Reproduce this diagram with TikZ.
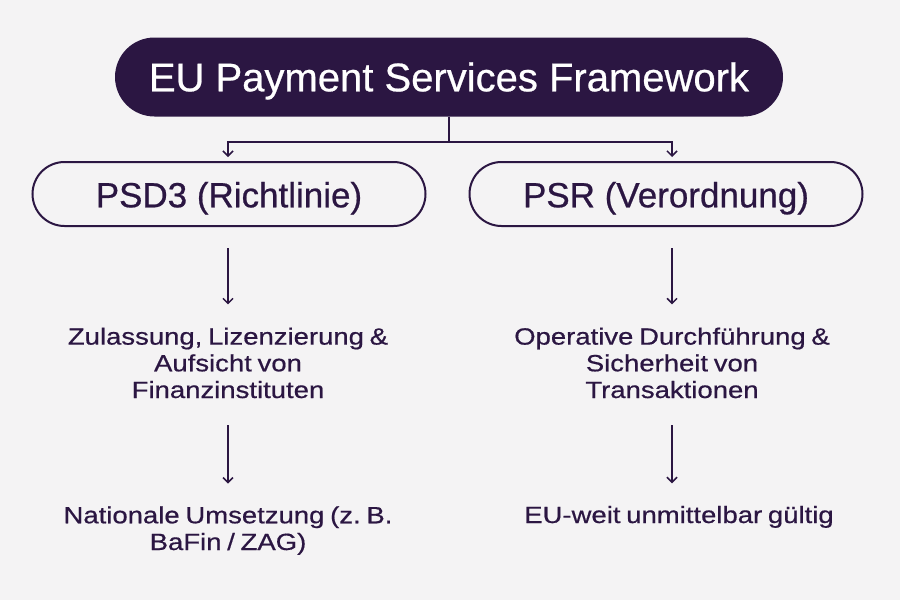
\documentclass[tikz,border=0pt]{standalone}
\usepackage{fontspec}
\setmainfont{Liberation Sans}
\newfontfamily\widefont[FakeStretch=1.17,FakeBold=0.6,WordSpace=0.75]{Liberation Sans}
\newfontfamily\medfont[FakeBold=0.6,WordSpace=0.8]{Liberation Sans}
\newfontfamily\titlefont[FakeBold=0.6]{Liberation Sans}
\usetikzlibrary{arrows.meta}
\definecolor{ink}{HTML}{2B1642}
\definecolor{bg}{HTML}{F4F3F4}
\frenchspacing
\begin{document}
\begin{tikzpicture}[x=1pt,y=-1pt,
  topbox/.style={fill=ink, text=white, rounded corners=39.5pt, minimum width=668pt, minimum height=79pt, inner sep=0pt, text height=28.6pt, text depth=0pt, font=\titlefont\fontsize{40}{48}\selectfont},
  subbox/.style={draw=ink, line width=2pt, fill=bg, rounded corners=32pt, minimum width=393pt, minimum height=64pt, inner sep=0pt, text=ink, text height=26.6pt, text depth=0pt, font=\medfont\fontsize{35}{42}\selectfont},
  desc/.style={text=ink, align=center, inner sep=0pt, anchor=base, font=\widefont\fontsize{23.5}{26.7}\selectfont\frenchspacing},
  conn/.style={draw=ink, line width=1.5pt},
  arr/.style={conn, -{Straight Barb[length=5pt,width=10pt]}}]
\fill[bg] (0,0) rectangle (900,600);
\useasboundingbox (0,0) rectangle (900,600);

\node[topbox] (top) at (449,77) {EU Payment Services Framework};
\node[subbox] (psd) at (229,194) {PSD3 (Richtlinie)};
\node[subbox] (psr) at (666,194) {PSR (Verordnung)};

\node[desc] (t1) at (228,398) {Zulassung, Lizenzierung \&\\Aufsicht von\\Finanzinstituten};
\node[desc] (t2) at (672,398) {Operative Durchführung \&\\Sicherheit von\\Transaktionen};
\node[desc] (t3) at (228,550) {Nationale Umsetzung (z. B.\\BaFin / ZAG)};
\node[desc] (t4) at (679,523) {EU-weit unmittelbar gültig};

\coordinate (split) at (449,142);
\draw[conn] (top.south) -- (split);
\draw[arr, shorten >=4pt] (split) -| (t1 |- psd.north);
\draw[arr, shorten >=4pt] (split) -| (t2 |- psr.north);

\draw[arr, shorten <=21pt, shorten >=23pt] (t1 |- psd.south) -- (t1.north);
\draw[arr, shorten <=21pt, shorten >=23pt] (t2 |- psr.south) -- (t2.north);
\draw[arr, shorten <=27pt, shorten >=22.5pt] (t1.south) -- (t3.north);
\draw[arr, shorten <=27pt, shorten >=22.5pt] (t2.south) -- (t2.south |- t4.north);
\end{tikzpicture}
\end{document}
